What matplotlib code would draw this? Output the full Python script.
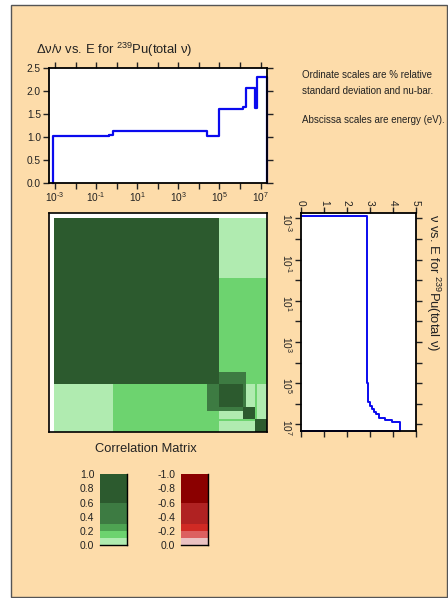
import numpy as np
import matplotlib
matplotlib.use('Agg')
import matplotlib.pyplot as plt
from matplotlib.colors import ListedColormap, BoundaryNorm
from matplotlib.patches import Rectangle
from matplotlib.ticker import LogLocator, FuncFormatter, FixedLocator

plt.rcParams['font.family'] = ['Liberation Sans', 'DejaVu Sans']
plt.rcParams['mathtext.default'] = 'regular'
plt.rcParams['text.color'] = '#222222'

# relative std deviation of nu-bar (%)
E_dev = [8e-4, 0.4, 0.63, 2.5e4, 9.5e4, 1.35e6, 1.9e6, 5.2e6, 6.5e6, 2e7]
rel_dev = [1.03, 1.05, 1.13, 1.02, 1.60, 1.65, 2.07, 1.63, 2.30]

# nu-bar
E_nu = [8e-4, 1.0, 1e3, 1e5, 4e5, 7.8e5, 1.3e6, 1.74e6, 2.34e6, 3e6, 4.6e6, 5.75e6, 7.8e6, 2e7]
nu_bar = [2.88, 2.87, 2.88, 2.90, 2.94, 3.01, 3.08, 3.18, 3.29, 3.41, 3.66, 3.95, 4.31]

# correlation matrix groups
E_grp = [8e-4, 0.63, 2.5e4, 9.5e4, 1.35e6, 1.9e6, 5.2e6, 6.5e6, 2e7]
corr = [
    [0.9, 0.9, 0.9, 0.05, 0.05, 0.05, 0.05, 0.05],
    [0.9, 0.9, 0.9, 0.15, 0.15, 0.15, 0.15, 0.15],
    [0.9, 0.9, 0.9, 0.45, 0.45, 0.15, 0.15, 0.15],
    [0.05, 0.15, 0.45, 0.9, 0.45, 0.05, 0.15, 0.05],
    [0.05, 0.15, 0.45, 0.45, 0.9, 0.9, 0.15, 0.05],
    [0.05, 0.15, 0.15, 0.05, 0.9, 0.9, 0.15, 0.05],
    [0.05, 0.15, 0.15, 0.15, 0.15, 0.15, 0.9, 0.9],
    [0.05, 0.15, 0.15, 0.05, 0.05, 0.05, 0.9, 0.9],
]

pos_levels = [0.0, 0.1, 0.2, 0.3, 0.6, 1.0]
pos_colors = ['#b0ebb0', '#6dd36f', '#4ea352', '#3d7b42', '#2c5a2e']
neg_levels = [-1.0, -0.6, -0.3, -0.2, -0.1, 0.0]
neg_colors = ['#8b0000', '#b02222', '#d02a24', '#dc6060', '#ebc2c2']
cbar_ticks_pos = [0.0, 0.2, 0.4, 0.6, 0.8, 1.0]
cbar_ticks_neg = [-1.0, -0.8, -0.6, -0.4, -0.2, 0.0]

bg = '#fddcaa'
blue = '#0a0aee'
W, H = 448, 598

fig = plt.figure(figsize=(W / 100, H / 100), dpi=100, facecolor='white')
frame = Rectangle((11 / W, 1 - 597 / H), 436 / W, 592 / H,
                  transform=fig.transFigure, facecolor=bg,
                  edgecolor='#555555', lw=1, zorder=-10)
fig.patches.append(frame)


def fig_ax(x0, y0, x1, y1):
    return fig.add_axes([x0 / W, 1 - y1 / H, (x1 - x0) / W, (y1 - y0) / H])


def energy_fmt(v, pos):
    e = int(round(np.log10(v)))
    if e % 2 == 0:
        return ''
    if e < 0:
        return r'$\mathdefault{10^{\text{-}%d}}$' % (-e)
    return r'$\mathdefault{10^{%d}}$' % e


xlo = 10 ** -3.32

# --- top panel: relative deviation ---
ax1 = fig_ax(48.5, 68, 266.7, 183)
xs = np.repeat(E_dev, 2)
ys = np.concatenate([[0], np.repeat(rel_dev, 2), [0]])
ax1.plot(xs, ys, color=blue, lw=1.6, clip_on=False)
ax1.set_xscale('log')
ax1.set_xlim(xlo, 2e7)
ax1.set_ylim(0, 2.5)
ax1.xaxis.set_major_locator(LogLocator(base=10, subs=(1.0,), numticks=30))
ax1.xaxis.set_minor_locator(FixedLocator([]))
ax1.xaxis.set_major_formatter(FuncFormatter(energy_fmt))
ax1.set_yticks([0, 0.5, 1.0, 1.5, 2.0, 2.5])
ax1.yaxis.set_major_formatter(FuncFormatter(lambda v, p: '%.1f' % v))
ax1.tick_params(direction='out', length=4, width=1, top=True, right=True,
                labelsize=7.3, pad=1.5, colors='#222222')
for s in ax1.spines.values():
    s.set_linewidth(1.3)
fig.text(36 / W, 1 - 50 / H, r'Δν/ν vs. E for $^{239}$Pu(total ν)',
         fontsize=9.4, va='center', ha='left')

fig.text(302 / W, 1 - 75 / H, 'Ordinate scales are % relative', fontsize=7, va='center')
fig.text(302 / W, 1 - 91 / H, 'standard deviation and nu-bar.', fontsize=7, va='center')
fig.text(302 / W, 1 - 120 / H, 'Abscissa scales are energy (eV).', fontsize=7, va='center')

# --- correlation matrix ---
ax2 = fig_ax(49, 213, 267, 431.5)
cmap = ListedColormap(pos_colors)
norm = BoundaryNorm(pos_levels, cmap.N)
ax2.pcolormesh(E_grp, E_grp, np.array(corr), cmap=cmap, norm=norm)
ax2.set_xscale('log')
ax2.set_yscale('log')
ax2.set_xlim(xlo, 2e7)
ax2.set_ylim(2e7, 10 ** -3.35)
ax2.set_xticks([])
ax2.set_yticks([])
ax2.minorticks_off()
for s in ax2.spines.values():
    s.set_linewidth(1.2)
fig.text(146 / W, 1 - 449 / H, 'Correlation Matrix', fontsize=9.3, ha='center', va='center')

# --- right panel: nu-bar ---
ax3 = fig_ax(301, 213.3, 415.7, 430.7)
ys3 = np.repeat(E_nu, 2)
xs3 = np.concatenate([[0], np.repeat(nu_bar, 2), [0]])
ax3.plot(xs3, ys3, color=blue, lw=1.4, clip_on=False)
ax3.set_yscale('log')
ax3.set_ylim(2e7, 10 ** -3.25)
ax3.set_xlim(0, 5)
ax3.set_xticks([0, 1, 2, 3, 4, 5])
ax3.yaxis.set_major_locator(LogLocator(base=10, subs=(1.0,), numticks=30))
ax3.yaxis.set_minor_locator(FixedLocator([]))
ax3.yaxis.set_major_formatter(FuncFormatter(energy_fmt))
ax3.tick_params(direction='out', length=4, width=1, top=True, right=True,
                bottom=True, labeltop=True, labelbottom=False,
                labelsize=7.3, pad=1.5, colors='#222222')
ax3.tick_params(axis='both', labelrotation=-90)
for s in ax3.spines.values():
    s.set_linewidth(1.3)
fig.text(433 / W, 1 - 214 / H, r'ν vs. E for $^{239}$Pu(total ν)',
         fontsize=9.4, rotation=-90, ha='center', va='top')


# --- colour keys ---
def color_key(x0, x1, levels, colors, ticks, inverted):
    ax = fig_ax(x0, 474, x1, 545.3)
    ax.patch.set_alpha(0)
    for k, c in enumerate(colors):
        ax.fill_between([0, 1], levels[k], levels[k + 1], color=c, lw=0)
    ax.set_xlim(0, 1)
    if inverted:
        ax.set_ylim(0, -1)
    else:
        ax.set_ylim(0, 1)
    ax.set_xticks([])
    ax.set_yticks(ticks)
    ax.yaxis.set_major_formatter(FuncFormatter(lambda v, p: '%.1f' % v))
    ax.tick_params(axis='y', length=0, labelsize=7.5, pad=4, colors='#222222')
    ax.spines['left'].set_visible(False)
    ax.spines['top'].set_visible(False)
    ax.spines['right'].set_linewidth(1)
    ax.spines['bottom'].set_linewidth(1)


color_key(100, 126.7, pos_levels, pos_colors, cbar_ticks_pos, False)
color_key(181, 208.3, neg_levels, neg_colors, cbar_ticks_neg, True)

fig.savefig('out.png', dpi=100, facecolor='white')
